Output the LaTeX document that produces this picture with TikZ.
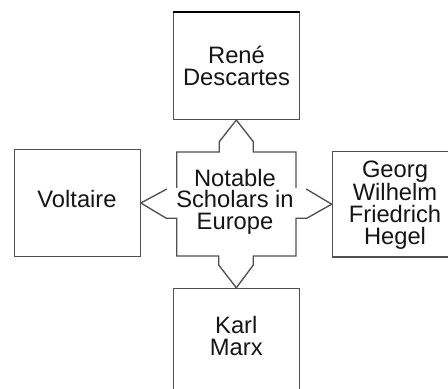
\documentclass[tikz,border=0pt]{standalone}
\usepackage{fontspec}
\setmainfont{Liberation Sans}
\definecolor{linegray}{HTML}{505050}
\definecolor{inkblack}{HTML}{151515}
\begin{document}
\begin{tikzpicture}[x=0.75pt,y=-0.75pt,
  outline/.style={draw=linegray,line width=1pt},
  personbox/.style={outline,rectangle,inner sep=0pt,minimum width=94.5pt,minimum height=80pt},
  label text/.style={inner sep=0pt,align=center,text=inkblack,font=\fontsize{17.8}{16.2}\selectfont}]
\clip (0,0) rectangle (448,388);
\fill[white] (0,0) rectangle (448,388);
% boxes
\node[personbox] (desc)  at (236.3,66)    {};
\node[personbox] (volt)  at (77.2,203)    {};
\node[personbox,minimum height=79pt] (hegel) at (395.3,204.2) {};
\node[personbox] (marx)  at (236.3,341.8)  {};
\draw[black,line width=1.6pt] (desc.north west) -- (desc.north east);
% central four-way shape
\coordinate (hub) at (236,204);
\draw[outline,line join=miter]
  (176.7,152) -- (219.3,152) -- (219.3,141.7) -- (desc.south)
  -- (253.3,141.7) -- (253.3,152) -- (296,152) -- (296,189.3)
  -- (306.7,189.3) -- (hegel.west) -- (306.7,218.3) -- (296,218.3)
  -- (296,256) -- (253.3,256) -- (253.3,265) -- (marx.north)
  -- (218.7,265) -- (218.7,256) -- (176.7,256) -- (176.7,218.3)
  -- (166.3,218.3) -- (volt.east) -- (166.3,189.3) -- (176.7,189.3) -- cycle;
\fill[white] (166.8,188.4) rectangle (306.2,217.4);
% texts
\node[label text] (desct)  at (236.5,66)   {René\\Descartes};
\node[label text] (voltt)  at (77,199)     {Voltaire};
\node[label text] (hegelt) at (395,205)    {Georg\\Wilhelm\\Friedrich\\Hegel};
\node[label text] (marxt)  at (236.3,335.8) {Karl\\Marx};
\node[label text] (hubt)   at (235,201.7)  {Notable\\Scholars in\\Europe};
\end{tikzpicture}
\end{document}
